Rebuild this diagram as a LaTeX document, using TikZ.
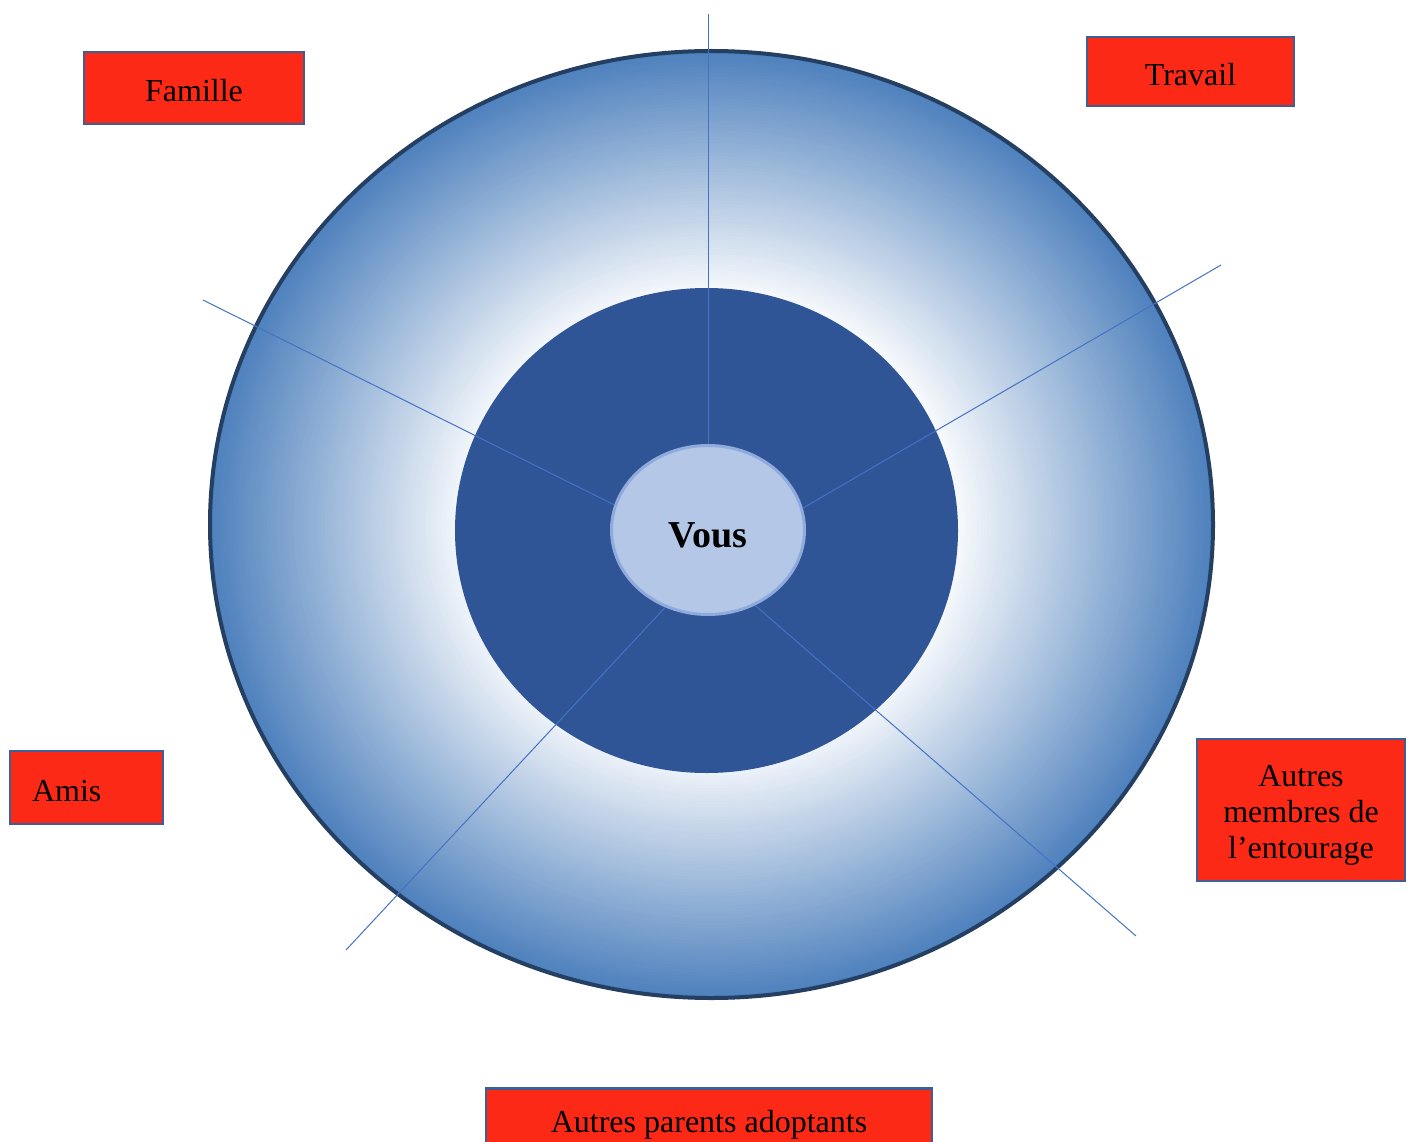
\documentclass[tikz,border=0pt]{standalone}
\usepackage{fontspec}
\setmainfont{Liberation Serif}
\usetikzlibrary{shapes.geometric}
\definecolor{boxred}{RGB}{252,41,22}
\definecolor{boxline}{RGB}{62,94,154}
\definecolor{ringblue}{RGB}{79,129,189}
\definecolor{ringline}{RGB}{36,63,98}
\definecolor{coreblue}{RGB}{47,85,151}
\definecolor{youfill}{RGB}{180,199,231}
\definecolor{youline}{RGB}{143,170,220}
\definecolor{spoke}{RGB}{68,114,196}
\tikzset{
  tag/.style={draw=boxline, line width=2.5pt, fill=boxred, inner sep=0pt,
    font=\fontsize{32}{36}\selectfont, align=center},
  tagone/.style={tag, text height=28pt, text depth=0pt},
  spk/.style={draw=spoke, line width=1pt}
}
\begin{document}
\begin{tikzpicture}[x=1pt,y=1pt,yscale=-1,xscale=1]
\useasboundingbox (0,0) rectangle (1411,1142);
\clip (0,0) rectangle (1411,1142);

%Shape: Ellipse [outer ring, blue at the rim fading to white inside]
\foreach \k in {0,...,79}{
  \pgfmathsetmacro\fr{1-0.53*\k/79}
  \pgfmathsetmacro\pc{100-100*\k/79}
  \fill[ringblue!\pc!white] (711.5,524.5) ellipse [x radius=501.5*\fr, y radius=473.5*\fr];
}
\draw[ringline, line width=4pt] (711.5,524.5) ellipse [x radius=501.5, y radius=473.5];
%Shape: Ellipse [inner disc]
\fill[coreblue] (706.5,530.5) ellipse [x radius=251.5, y radius=242.5];

% centre
\node[ellipse, draw=youline, line width=3pt, fill=youfill, minimum width=193pt, minimum height=169pt, inner sep=0pt, text height=35pt, text depth=0pt, font=\fontsize{38}{42}\selectfont\bfseries] (vous) at (708,530) {Vous};

% free ends of the spokes
\coordinate (eN) at (708,14);
\coordinate (eNE) at (1221,265);
\coordinate (eSE) at (1136,936);
\coordinate (eSW) at (346,950);
\coordinate (eNW) at (203,300);

%Straight Lines [spokes]
\draw[spk] (vous.north) -- (eN);
\draw[spk] (vous.13) -- (eNE);
\draw[spk] (vous.-58) -- (eSE);
\draw[spk] (vous.-119) -- (eSW);
\draw[spk] (vous.165) -- (eNW);

% Text Node
\node[tagone, minimum width=220pt, minimum height=72pt] (famille) at (194,88) {Famille};
% Text Node
\node[tagone, minimum width=207pt, minimum height=69pt] (travail) at (1190.5,71.5) {Travail};
% Text Node
\node[tagone, minimum width=153pt, minimum height=73pt, text width=109pt, align=left] (amis) at (86.5,787.5) {Amis};
% Text Node
\node[tag, minimum width=208pt, minimum height=142pt] (entourage) at (1301,810) {\rule{0pt}{31pt}Autres\\membres de\\l’entourage};
% Text Node
\node[tagone, minimum width=446pt, minimum height=72pt, text depth=12pt] (parents) at (709,1124.5) {Autres parents adoptants};

\end{tikzpicture}
\end{document}
